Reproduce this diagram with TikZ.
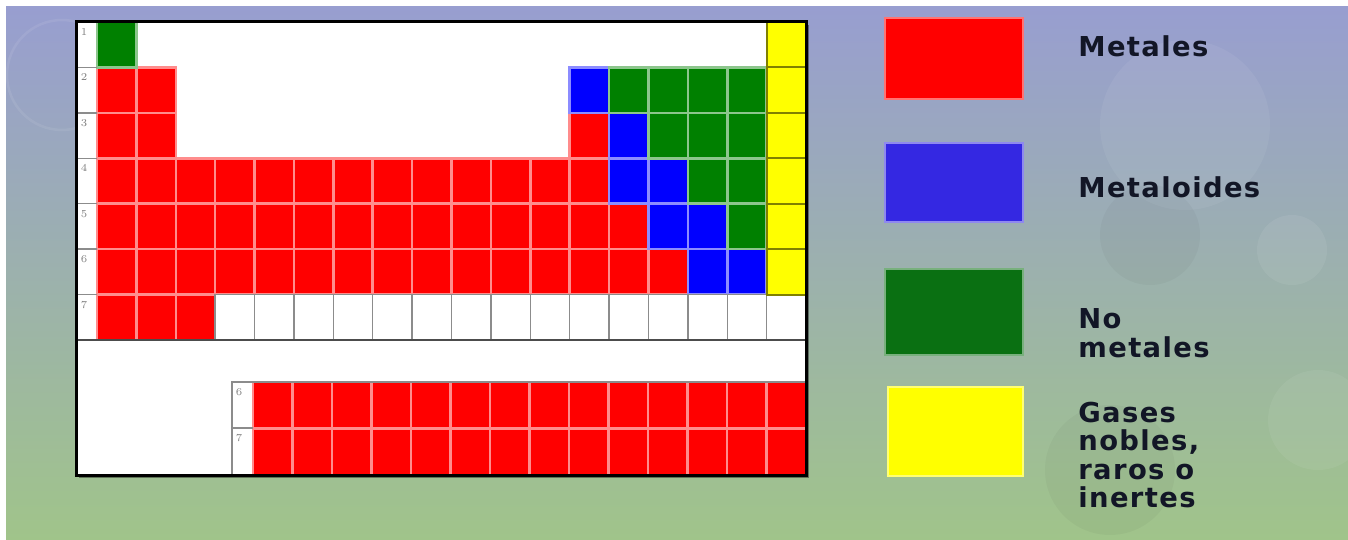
\documentclass[tikz,border=0pt]{standalone}
\usepackage{fontspec}
\usetikzlibrary{positioning}
\newfontfamily\legendfont[LetterSpace=5]{DejaVu Sans}
\definecolor{cmet}{RGB}{255,0,0}
\definecolor{cmtd}{RGB}{0,0,255}
\definecolor{cnon}{RGB}{0,128,0}
\definecolor{cgas}{RGB}{255,255,0}
\definecolor{lmtd}{RGB}{52,40,226}
\definecolor{lnon}{RGB}{10,112,18}
\definecolor{bgtop}{RGB}{152,158,208}
\definecolor{bgmid}{RGB}{170,182,196}
\definecolor{bgbot}{RGB}{160,196,138}
\definecolor{ink}{RGB}{18,22,38}
\definecolor{gridgray}{RGB}{140,140,140}
\tikzset{
  cell/.style={fill=#1, draw=#1!45!white, line width=0.05cm},
  gascell/.style={fill=cgas, draw=cgas!50!black, line width=0.04cm},
  emptycell/.style={fill=white, draw=gridgray, line width=0.03cm},
  rowno/.style={font=\fontsize{6}{6}\selectfont, text=gray, inner sep=0pt},
  legbox/.style={draw=#1!55!white, fill=#1, line width=0.04cm, minimum width=2.76cm,
    inner sep=0pt},
  legtext/.style={anchor=west, align=left, inner sep=0pt, text=ink,
    font=\legendfont\bfseries\fontsize{15.6}{16.2}\selectfont},
}

\begin{document}
\begin{tikzpicture}[x=0.02cm, y=-0.02cm]
\useasboundingbox (0,0) rectangle (1348,540);
\fill[white] (0,0) rectangle (1348,540);
\shade[top color=bgtop, middle color=bgmid, bottom color=bgbot] (6,7) rectangle (1348,540);
\fill[white, opacity=0.06] (1185,125) circle (1.7cm);
\fill[black, opacity=0.03] (1150,235) circle (1cm);
\fill[white, opacity=0.07] (1292,250) circle (0.7cm);
\fill[white, opacity=0.06] (1318,420) circle (1cm);
\fill[black, opacity=0.03] (1110,470) circle (1.3cm);
\draw[white, opacity=0.08, line width=0.05cm] (62,75) circle (1.1cm);
\fill[black, opacity=0.4] (79,25) rectangle (809,478);
\fill[white] (76,22) rectangle (806,475);
\foreach \col/\r/\a/\b in {cmet/2/1/2, cmet/3/1/2, cmet/3/13/13, cmet/4/1/13, cmet/5/1/14,
  cmet/6/1/15, cmet/7/1/3, cmtd/2/13/13, cmtd/3/14/14, cmtd/4/14/15, cmtd/5/15/16,
  cmtd/6/16/17, cnon/1/1/1, cnon/2/14/17, cnon/3/15/17, cnon/4/16/17, cnon/5/17/17}
  \foreach \c in {\a,...,\b}
    \path[cell=\col] ({97+(\c-1)*39.39},{22+(\r-1)*45.43}) rectangle ++(39.39,45.43);
\foreach \c in {4,...,18}
  \path[emptycell] ({97+(\c-1)*39.39},{22+6*45.43}) rectangle ++(39.39,45.43);
\foreach \r in {1,...,6}
  \path[gascell] ({97+17*39.39},{22+(\r-1)*45.43}) rectangle ++(39.39,45.43);
\foreach \r in {1,...,6}
  \draw[gridgray, line width=0.03cm] (76,{22+\r*45.43}) -- (97,{22+\r*45.43});
\draw[black!70, line width=0.03cm] (76,340) -- (806,340);
\foreach \r in {1,...,7}
  \node[rowno] (per\r) at (84,{32+(\r-1)*45.43}) {\r};
\foreach \r in {1,2}
  \foreach \c in {1,...,14}
    \path[cell=cmet] ({253+(\c-1)*39.5},{382+(\r-1)*46.5}) rectangle ++(39.5,46.5);
\draw[gridgray, line width=0.03cm] (232,475) -- (232,382) -- (806,382);
\draw[gridgray, line width=0.03cm] (232,428) -- (253,428);
\node[rowno] (lan6) at (239,392) {6};
\node[rowno] (lan7) at (239,438) {7};
\draw[black, line width=0.06cm] (76,22) rectangle (806,475);
\node[legbox=cmet, minimum height=1.62cm] (kmet) at (953.5,58.5) {};
\node[legbox=lmtd, minimum height=1.58cm] (kmtd) at (954,182.5) {};
\node[legbox=lnon, minimum height=1.72cm] (knon) at (954,312) {};
\node[legbox=cgas, minimum width=2.7cm, minimum height=1.78cm] (kgas) at (955.5,431.5) {};
\node[legtext] (tmet) at (1078,46) {Metales};
\node[legtext] (tmtd) at (1078,187) {Metaloides};
\node[legtext] (tnon) at (1078,333) {No\\metales};
\node[legtext] (tgas) at (1078,455) {Gases\\nobles,\\raros o\\inertes};
\end{tikzpicture}
\end{document}
